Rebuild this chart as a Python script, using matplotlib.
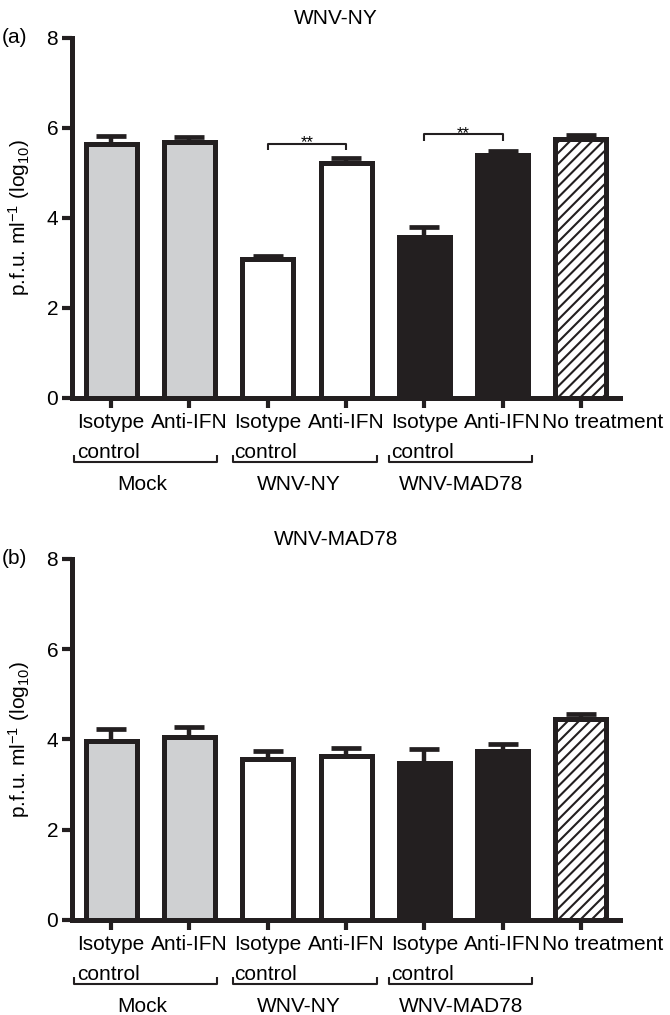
import matplotlib
matplotlib.use("Agg")
import matplotlib.pyplot as plt
import numpy as np

plt.rcParams["font.family"] = ["Liberation Sans", "DejaVu Sans"]
plt.rcParams["mathtext.fontset"] = "custom"
plt.rcParams["mathtext.rm"] = "Liberation Sans"
plt.rcParams["mathtext.default"] = "regular"
plt.rcParams["hatch.linewidth"] = 1.5

# ---- data ----
bar_labels = ["Isotype\ncontrol", "Anti-IFN", "Isotype\ncontrol", "Anti-IFN",
              "Isotype\ncontrol", "Anti-IFN", "No treatment"]
groups = ["Mock", "WNV-NY", "WNV-MAD78"]

ny_mean = [5.65, 5.68, 3.08, 5.23, 3.57, 5.39, 5.75]
ny_err = [0.18, 0.12, 0.07, 0.11, 0.23, 0.10, 0.09]

mad_mean = [3.97, 4.05, 3.57, 3.64, 3.47, 3.74, 4.45]
mad_err = [0.27, 0.22, 0.17, 0.18, 0.33, 0.16, 0.12]

# significance pairs (bar index a, bar index b, bracket height) for panel a
ny_sig = [(2, 3, 5.65), (4, 5, 5.86)]

EDGE = "#231f20"
GREY = "#cfd0d2"
fills = [GREY, GREY, "white", "white", EDGE, EDGE, "white"]
hatches = [None, None, None, None, None, None, "///"]

# group bracket spans under the axis (x in bar units) and label centres
group_span = [(-0.48, 1.35), (1.55, 3.39), (3.55, 5.38)]
group_mid = [0.40, 2.40, 4.47]


def draw_panel(ax, means, errs, title, letter, sig=()):
    x = np.arange(len(means))
    bars = ax.bar(x, means, width=0.65, color=fills, edgecolor=EDGE,
                  linewidth=3.6, zorder=2)
    for p, h in zip(bars, hatches):
        if h:
            p.set_hatch(h)
    ax.errorbar(x, means, yerr=[np.zeros(len(errs)), errs], fmt="none",
                ecolor=EDGE, elinewidth=3.2, capsize=11, capthick=3.4, zorder=1)

    ax.set_xlim(-0.5, 6.5)
    ax.set_ylim(0, 8)
    ax.set_yticks([0, 2, 4, 6, 8])
    ax.set_xticks(x)
    ax.set_xticklabels([])
    for s in ["top", "right"]:
        ax.spines[s].set_visible(False)
    for s in ["left", "bottom"]:
        ax.spines[s].set_linewidth(3.6)
        ax.spines[s].set_color(EDGE)
    ax.tick_params(axis="both", width=3, length=7, color=EDGE)
    ax.tick_params(axis="y", labelsize=15, pad=3)

    # category labels under each bar
    for i, lab in enumerate(bar_labels):
        if "\n" not in lab and i == len(bar_labels) - 1:
            ax.text(i - 0.5, -0.33, lab, ha="left", va="top", fontsize=15,
                    clip_on=False)
        else:
            ax.text(i, -0.33, lab, ha="center", va="top", fontsize=15,
                    multialignment="left", linespacing=1.75, clip_on=False)

    # group brackets
    for (a, b), mid, g in zip(group_span, group_mid, groups):
        ax.plot([a, a, b, b], [-1.27, -1.42, -1.42, -1.27], color=EDGE,
                lw=1.5, clip_on=False, solid_capstyle="butt")
        ax.text(mid, -2.04, g, ha="center", va="baseline", fontsize=15,
                clip_on=False)

    # significance brackets
    for a, b, h in sig:
        ax.plot([a, a, b, b], [h - 0.14, h, h, h - 0.14], color=EDGE, lw=1.5,
                solid_capstyle="butt")
        ax.text((a + b) / 2, h - 0.08, "**", ha="center", va="baseline",
                fontsize=12)

    ax.set_ylabel("p.f.u. ml$^{-1}$ (log$_{10}$)", fontsize=15)
    ax.yaxis.set_label_coords(-0.073, 0.5)
    ax.text(0.482, 1.04, title, transform=ax.transAxes, ha="center",
            va="baseline", fontsize=15)
    ax.text(-0.128, 8, letter, transform=ax.get_yaxis_transform(),
            ha="left", va="center", fontsize=15)


fig = plt.figure(figsize=(6.7, 10.15), dpi=100)
ax_a = fig.add_axes([0.1075, 0.6079, 0.818, 0.3547])
ax_b = fig.add_axes([0.1075, 0.0936, 0.818, 0.3557])

draw_panel(ax_a, ny_mean, ny_err, "WNV-NY", "(a)", ny_sig)
draw_panel(ax_b, mad_mean, mad_err, "WNV-MAD78", "(b)")

fig.savefig("out.png", dpi=100)
